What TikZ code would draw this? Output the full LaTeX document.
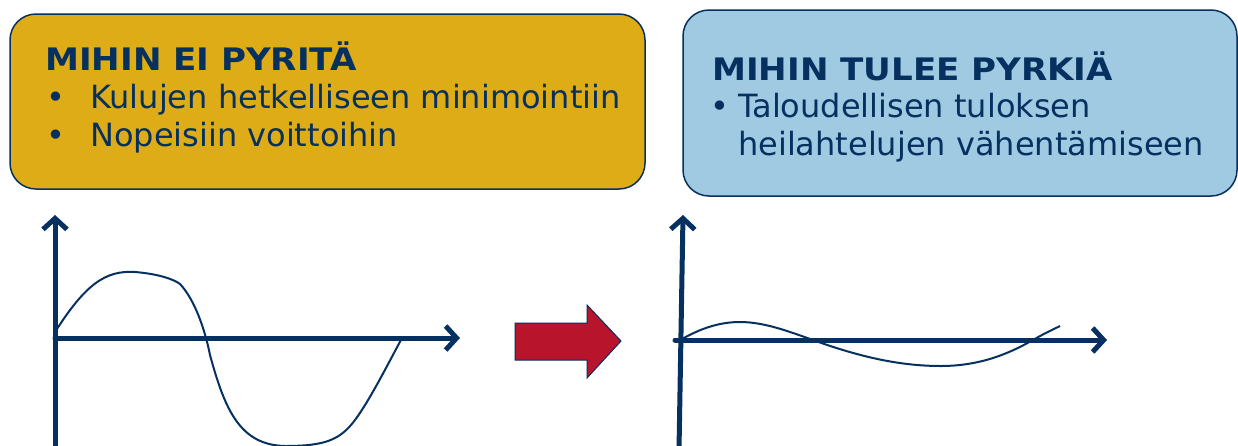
\documentclass[tikz,border=0pt]{standalone}
\usepackage{fontspec}
\setmainfont{DejaVu Sans}
\newfontfamily\ttlfont{DejaVu Sans Bold}[FakeStretch=1.1]
\usetikzlibrary{arrows.meta}
\definecolor{navy}{HTML}{06305F}
\definecolor{gold}{HTML}{DEAC16}
\definecolor{lblue}{HTML}{A0C9E2}
\definecolor{dred}{HTML}{B8142C}
\tikzset{
  box/.style={draw=navy, line width=1.5pt, rounded corners=26pt},
  ttl/.style={anchor=base west, inner sep=0pt, text=navy, font=\fontsize{31}{34}\ttlfont},
  txt/.style={anchor=base west, inner sep=0pt, text=navy, font=\fontsize{32}{36}\selectfont},
  axis/.style={navy, line width=5pt, line cap=round, -{Straight Barb[length=11pt,width=24pt,line width=5pt]}},
  curve/.style={navy, line width=2pt},
}
\begin{document}
\begin{tikzpicture}[x=1pt,y=-1pt]
\useasboundingbox (0,0) rectangle (1238,445);
% boxes
\draw[box, fill=gold] (10,14) rectangle (645,189);
\draw[box, fill=lblue] (683,10) rectangle (1237,196);
\node[ttl] (t1) at (45,70) {MIHIN EI PYRITÄ};
\node[txt] (b1) at (46,108) {•};
\node[txt] (l1) at (90,108) {Kulujen hetkelliseen minimointiin};
\node[txt] (b2) at (46,146) {•};
\node[txt] (l2) at (90,146) {Nopeisiin voittoihin};
\node[ttl] (t2) at (712,80) {MIHIN TULEE PYRKIÄ};
\node[txt] (b3) at (710,117) {•};
\node[txt] (l3) at (738,117) {Taloudellisen tuloksen};
\node[txt] (l4) at (738,155) {heilahtelujen vähentämiseen};
% left graph
\coordinate (o1) at (55,338);
\coordinate (y1) at (55,215);
\coordinate (x1) at (460,338);
\coordinate (yb1) at (55,450);
\draw[axis] (yb1) -- (y1);
\draw[axis] (o1) -- (x1);
\draw[curve] (55,332) .. controls (85,285) and (105,270) .. (135,272)
  .. controls (160,274) and (175,280) .. (180,284)
  .. controls (195,300) and (205,330) .. (210,355)
  .. controls (225,410) and (240,445) .. (285,446)
  .. controls (325,446) and (340,440) .. (355,420)
  .. controls (370,400) and (390,360) .. (402,338);
% red arrow
\draw[navy, line width=1pt, fill=dred] (515,323) -- (587,323) -- (587,305) -- (621,341) -- (587,378) -- (587,360) -- (515,360) -- cycle;
% right graph
\coordinate (yb2) at (679,450);
\coordinate (y2) at (683,215);
\coordinate (o2) at (675,340);
\coordinate (x2) at (1107,340);
\draw[axis] (yb2) -- (y2);
\draw[axis] (o2) -- (x2);
\draw[curve] (677,342) .. controls (700,328) and (720,322) .. (740,322)
  .. controls (765,322) and (790,332) .. (813,340)
  .. controls (860,357) and (900,366) .. (941,366)
  .. controls (985,366) and (1015,350) .. (1033,340)
  .. controls (1045,333) and (1052,330) .. (1060,326);
\end{tikzpicture}
\end{document}
